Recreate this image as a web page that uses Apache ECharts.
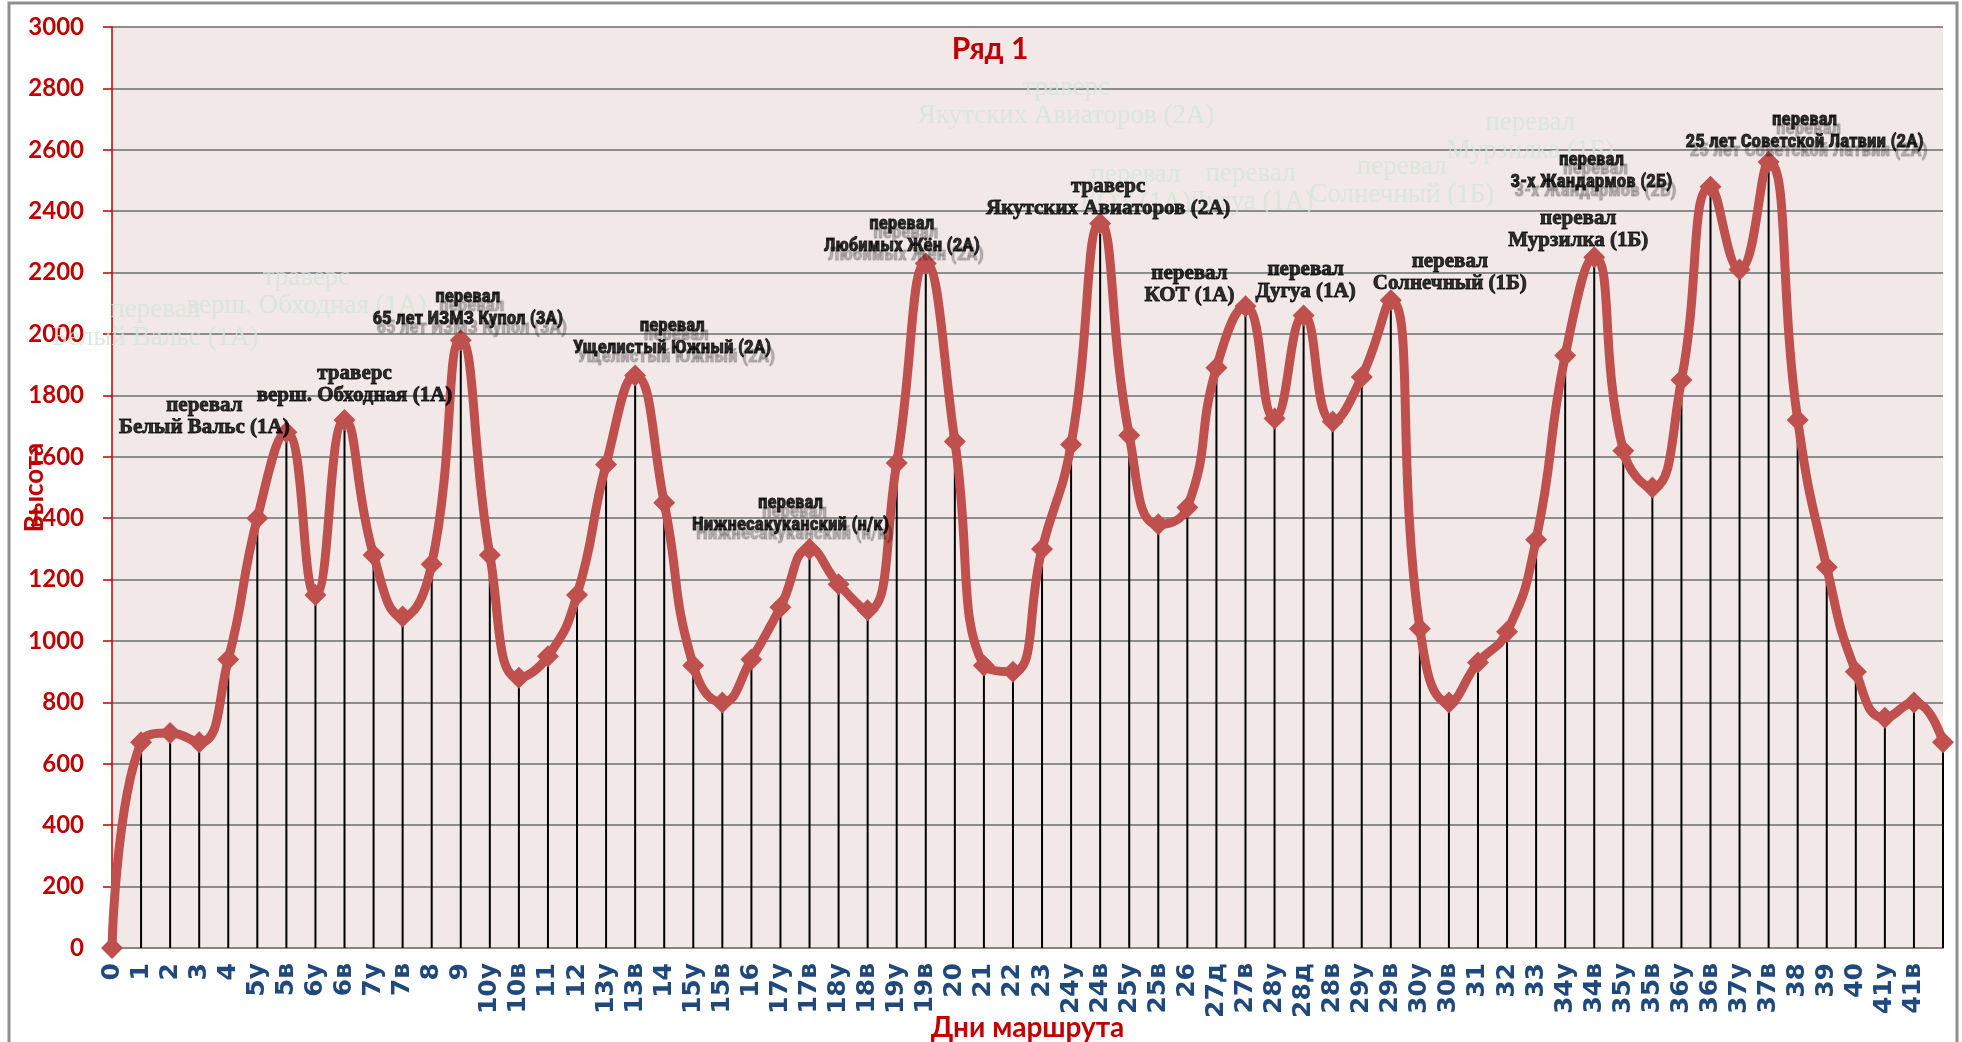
<!DOCTYPE html>
<html>
<head>
<meta charset="utf-8">
<script src="https://cdn.jsdelivr.net/npm/echarts@6/dist/echarts.min.js"></script>
<style>
html,body{margin:0;padding:0;background:#fff;}
#chart{width:1962px;height:1042px;}
</style>
</head>
<body>
<div id="chart"></div>
<script>
// дни маршрута (последняя точка без подписи)
var days = ['0','1','2','3','4','5у','5в','6у','6в','7у','7в','8','9','10у','10в','11','12','13у','13в','14',
  '15у','15в','16','17у','17в','18у','18в','19у','19в','20','21','22','23','24у','24в','25у','25в','26',
  '27д','27в','28у','28д','28в','29у','29в','30у','30в','31','32','33','34у','34в','35у','35в','36у','36в',
  '37у','37в','38','39','40','41у','41в',''];
// высота, м
var heights = [0,670,700,670,940,1400,1680,1150,1720,1280,1080,1250,1980,1280,880,950,1150,1575,1865,1450,
  920,800,940,1110,1300,1185,1100,1580,2230,1650,920,900,1300,1640,2360,1670,1380,1435,
  1890,2090,1725,2060,1715,1860,2110,1040,800,930,1030,1330,1930,2250,1620,1500,1850,2480,
  2210,2560,1720,1240,900,750,800,670];

// перевалы и вершины: номер точки, тип, название
var passIdx = [6, 8, 12, 18, 24, 28, 34, 39, 41, 44, 51, 55, 57];
var passKind = ['перевал','траверс','перевал','перевал','перевал','перевал','траверс','перевал','перевал','перевал','перевал','перевал','перевал'];
var passName = ['Белый Вальс (1А)','верш. Обходная (1А)','65 лет ИЗМЗ Купол (3А)','Ущелистый Южный (2А)',
  'Нижнесакуканский (н/к)','Любимых Жён (2А)','Якутских Авиаторов (2А)','КОТ (1А)','Дугуа (1А)',
  'Солнечный (1Б)','Мурзилка (1Б)','3-х Жандармов (2Б)','25 лет Советской Латвии (2А)'];
// бледные копии подписей
var ghostIdx = [6, 8, 34, 39, 41, 44, 51];

// раскладка подписей (смещение от точки) и шрифт
var passOffset = [[-82,-16],[10,-35],[7,-32],[37,-38],[-19,-35],[-24,-28],[8,-26],[-56,-22],[2,-35],[59,-28],[-16,-28],[-119,-15],[36,-31]];
var passFont = ['s','s','n','n','n','n','s','s','s','s','s','n','n'];
var ghostOffset = [[-131,-108],[-38,-128],[-34,-122],[-110,-117],[-53,-128],[11,-119],[-64,-120]];

var narrowStyle = {
  fontFamily: "'Liberation Sans Narrow','Roboto Condensed',Roboto,sans-serif",
  fontWeight: 'bold', fontSize: 19, lineHeight: 22, color: '#000',
  textBorderColor: '#000', textBorderWidth: 0.8,
  textShadowColor: 'rgba(0,0,0,0.3)', textShadowOffsetX: 4, textShadowOffsetY: 9, textShadowBlur: 1
};
var serifStyle = {
  fontFamily: "'Liberation Serif','DejaVu Serif',serif",
  fontWeight: 'bold', fontSize: 21, lineHeight: 22, color: '#000',
  textBorderColor: '#000', textBorderWidth: 0.9
};

var passData = passIdx.map(function (c, k) {
  var st = passFont[k] == 'n' ? narrowStyle : serifStyle;
  var lab = { formatter: passKind[k] + '\n' + passName[k], offset: passOffset[k] };
  for (var p in st) lab[p] = st[p];
  return { value: [c, heights[c]], label: lab };
});

var ghostData = ghostIdx.map(function (c, k) {
  var j = passIdx.indexOf(c);
  return {
    value: [c, heights[c]],
    label: { formatter: passKind[j] + '\n' + passName[j], offset: ghostOffset[k] }
  };
});

var red = '#C00000';
var chart = echarts.init(document.getElementById('chart'));
var option = {
  backgroundColor: '#fff',
  animation: false,
  title: {
    text: 'Ряд 1', left: 985, top: 29, textAlign: 'center',
    textStyle: { color: red, fontFamily: 'Lato', fontWeight: 'bold', fontSize: 30 }
  },
  graphic: [{
    type: 'rect', silent: true, z: 100,
    shape: { x: 9, y: 3, width: 1948, height: 1060 },
    style: { fill: 'none', stroke: '#8F8F8F', lineWidth: 3 }
  }],
  grid: {
    left: 112, right: 19, top: 27, bottom: 94,
    show: true, backgroundColor: '#F2E8E8', borderWidth: 0,
    containLabel: false, outerBoundsMode: 'none'
  },
  xAxis: {
    type: 'category', data: days, boundaryGap: false,
    name: 'Дни маршрута', nameLocation: 'middle', nameGap: 66, nameMoveOverlap: false,
    nameTextStyle: { color: red, fontFamily: 'Lato', fontWeight: 'bold', fontSize: 28 },
    axisLine: { lineStyle: { color: '#868686', width: 2 } },
    axisTick: { show: false },
    axisLabel: {
      interval: 0, rotate: 90, margin: 15, hideOverlap: false,
      color: '#1F497D', fontFamily: 'DejaVu Sans', fontWeight: 'bold', fontSize: 25
    },
    splitLine: { show: false }
  },
  yAxis: {
    type: 'value', min: 0, max: 3000, interval: 200,
    name: 'Высота', nameLocation: 'middle', nameGap: 64, nameRotate: 90, nameMoveOverlap: false,
    nameTextStyle: { color: red, fontFamily: 'Lato', fontWeight: 'bold', fontSize: 26 },
    axisLine: { show: true, lineStyle: { color: red, width: 1.5 } },
    axisTick: { show: true, length: 9, lineStyle: { color: red, width: 1.5 } },
    axisLabel: {
      color: red, fontFamily: 'Lato', fontWeight: 'bold', fontSize: 24, margin: 28,
      formatter: function (v) { return String(v); }
    },
    splitLine: { lineStyle: { color: '#8C8C8C', width: 2 } }
  },
  series: [
    {
      // линии проекции
      type: 'bar', data: heights, barWidth: 2, silent: true, z: 2,
      itemStyle: { color: '#000' }
    },
    {
      type: 'scatter', data: ghostData, symbolSize: 1, silent: true, z: 1,
      itemStyle: { color: 'rgba(0,0,0,0)' },
      label: {
        show: true, position: 'inside', align: 'center', verticalAlign: 'middle',
        fontFamily: "'Liberation Serif','DejaVu Serif',serif", fontSize: 27, lineHeight: 28,
        color: '#D3E6DA'
      }
    },
    {
      name: 'Ряд 1', type: 'line', data: heights, smooth: 0.5, clip: false, z: 5,
      symbol: 'diamond', symbolSize: 22,
      lineStyle: { color: '#C0504D', width: 9 },
      itemStyle: { color: '#C0504D' }
    },
    {
      type: 'scatter', data: passData, symbolSize: 1, silent: true, z: 10,
      itemStyle: { color: 'rgba(0,0,0,0)' },
      label: { show: true, position: 'inside', align: 'center', verticalAlign: 'middle' }
    }
  ]
};
chart.setOption(option);
</script>
</body>
</html>
